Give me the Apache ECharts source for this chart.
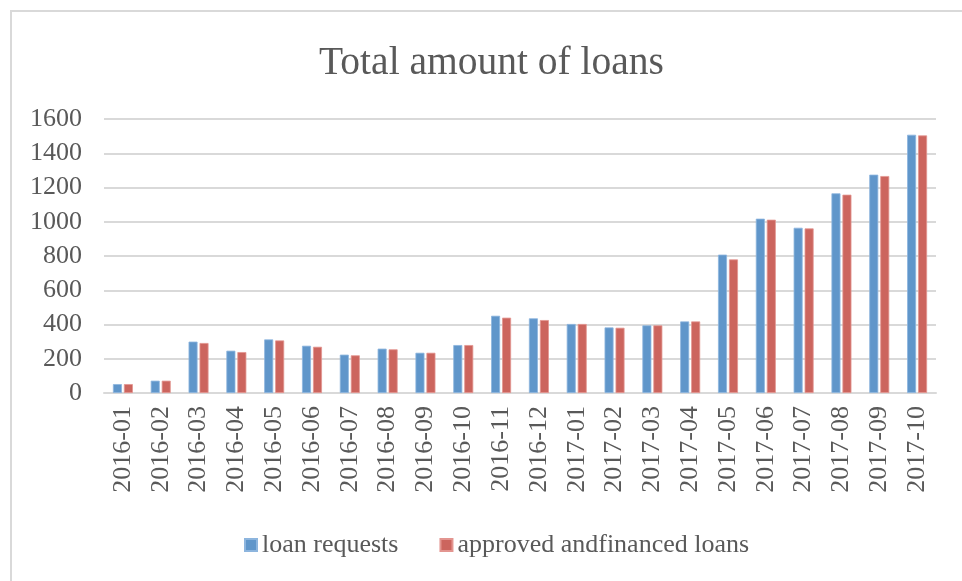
<!DOCTYPE html>
<html>
<head>
<meta charset="utf-8">
<script src="https://cdn.jsdelivr.net/npm/echarts@6/dist/echarts.min.js"></script>
<style>
html,body{margin:0;padding:0;background:#fff;}
#chart{width:962px;height:581px;}
</style>
</head>
<body>
<div id="chart"></div>
<script>
const categories = ['2016-01','2016-02','2016-03','2016-04','2016-05','2016-06','2016-07','2016-08','2016-09','2016-10','2016-11','2016-12','2017-01','2017-02','2017-03','2017-04','2017-05','2017-06','2017-07','2017-08','2017-09','2017-10'];
const loanRequests = [52,72,300,247,313,276,224,259,235,280,451,436,403,383,395,418,808,1018,965,1166,1275,1508];
const approvedLoans = [52,72,292,239,307,270,220,255,235,280,440,426,403,381,395,418,780,1012,961,1158,1267,1504];
const seriesNames = ['loan requests','approved andfinanced loans'];
const titleText = 'Total amount of loans';

const FONT = '"Liberation Serif", serif';
const TXT = '#595959';
const chart = echarts.init(document.getElementById('chart'));
chart.setOption({
  animation: false,
  backgroundColor: '#fff',
  graphic: [{
    type: 'rect', z: -10,
    shape: {x: 11, y: 11, width: 1000, height: 620},
    style: {fill: 'none', stroke: '#d9d9d9', lineWidth: 2}
  }],
  title: {
    text: titleText, left: 314, top: 39,
    textStyle: {fontFamily: FONT, fontSize: 39.5, fontWeight: 'normal', color: TXT}
  },
  legend: {
    data: seriesNames, left: 239, top: 527,
    itemWidth: 12, itemHeight: 12, itemGap: 41,
    icon: 'rect',
    textStyle: {fontFamily: FONT, fontSize: 26, color: TXT}
  },
  grid: {left: 104, right: 26, top: 119, bottom: 188, containLabel: false},
  xAxis: {
    type: 'category', data: categories,
    axisLine: {lineStyle: {color: '#d9d9d9', width: 2}},
    axisTick: {show: false},
    axisLabel: {rotate: 90, interval: 0, margin: 13, fontFamily: FONT, fontSize: 26, color: TXT}
  },
  yAxis: {
    type: 'value', min: 0, max: 1600, interval: 200,
    axisLine: {show: false}, axisTick: {show: false},
    splitLine: {lineStyle: {color: '#d9d9d9', width: 2}},
    axisLabel: {margin: 22, fontFamily: FONT, fontSize: 26, color: TXT, formatter: v => String(v)}
  },
  series: [
    {name: seriesNames[0], type: 'bar', data: loanRequests, barWidth: 9, barGap: '22%',
     itemStyle: {color: '#6096CA', borderColor: '#8db5de', borderWidth: 0.8}},
    {name: seriesNames[1], type: 'bar', data: approvedLoans, barWidth: 9,
     itemStyle: {color: '#CC655E', borderColor: '#e39590', borderWidth: 0.8}}
  ]
});
</script>
</body>
</html>
